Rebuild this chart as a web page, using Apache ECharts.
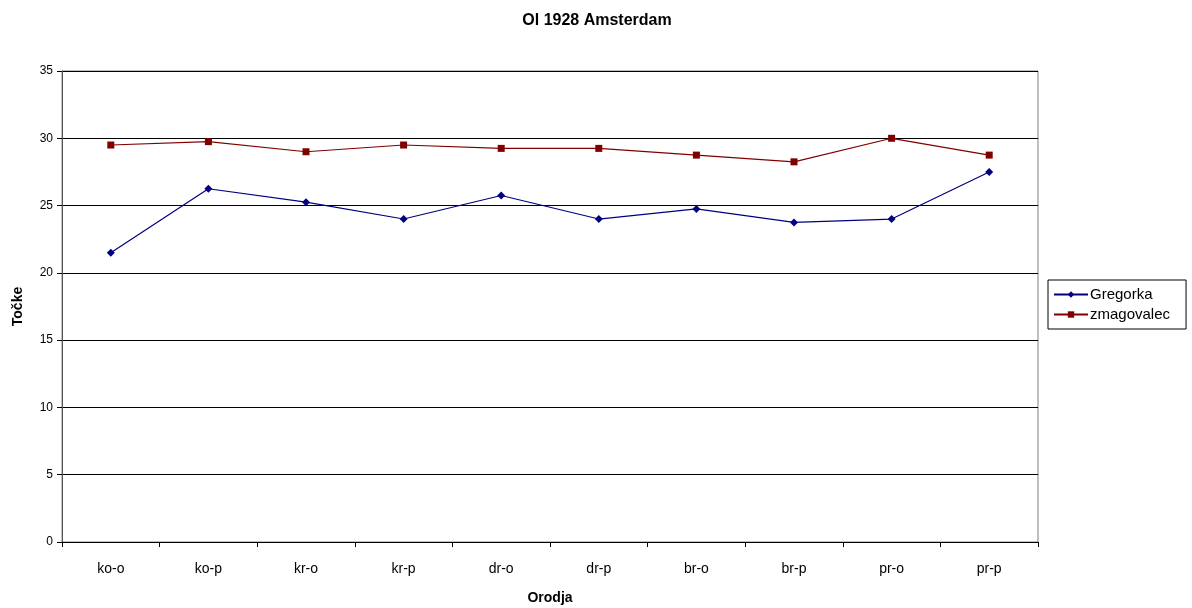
<!DOCTYPE html>
<html><head><meta charset="utf-8">
<script src="https://cdn.jsdelivr.net/npm/echarts@6/dist/echarts.min.js"></script>
<style>html,body{margin:0;padding:0;background:#fff}#c{width:1192px;height:608px}</style>
</head><body><div id="c"></div>
<script>
const categories = ['ko-o','ko-p','kr-o','kr-p','dr-o','dr-p','br-o','br-p','pr-o','pr-p'];
const gregorka = [21.5, 26.25, 25.25, 24, 25.75, 24, 24.75, 23.75, 24, 27.5];
const zmagovalec = [29.5, 29.75, 29, 29.5, 29.25, 29.25, 28.75, 28.25, 30, 28.75];
const yTicks = [0,5,10,15,20,25,30,35];

const F = 'Liberation Sans, Arial, sans-serif';
const chart = echarts.init(document.getElementById('c'));
chart.setOption({
  animation: false,
  backgroundColor: '#fff',
  title: { text: 'Ol 1928 Amsterdam', left: 592, top: 8, textAlign: 'center',
    textStyle: { fontFamily: F, fontSize: 16, fontWeight: 'bold', color: '#000' } },
  legend: {
    orient: 'vertical', left: 1048, top: 280,
    padding: [7, 16, 7, 5], itemGap: 5, itemWidth: 34, itemHeight: 8,
    borderColor: '#000', borderWidth: 1,
    textStyle: { fontFamily: F, fontSize: 15, color: '#000', padding: [0,0,0,-3] },
    data: ['Gregorka', 'zmagovalec']
  },
  grid: { left: 62, right: 154, top: 71, bottom: 66, outerBoundsMode: 'none', containLabel: false,
    show: true, borderColor: '#808080', borderWidth: 1 },
  xAxis: {
    type: 'category', data: categories, boundaryGap: true,
    name: 'Orodja', nameLocation: 'middle', nameGap: 49,
    nameTextStyle: { fontFamily: F, fontSize: 14, fontWeight: 'bold', color: '#000' },
    axisLine: { lineStyle: { color: '#000', width: 1 } },
    axisTick: { show: true, alignWithLabel: false, length: 5, lineStyle: { color: '#000' } },
    axisLabel: { fontFamily: F, fontSize: 14, color: '#000', margin: 20 }
  },
  yAxis: {
    type: 'value', min: 0, max: 35, interval: 5,
    name: 'Točke', nameLocation: 'middle', nameGap: 37, nameRotate: 90,
    nameTextStyle: { fontFamily: F, fontSize: 14, fontWeight: 'bold', color: '#000' },
    axisLine: { show: true, lineStyle: { color: '#555', width: 1 } },
    axisTick: { show: true, length: 5, lineStyle: { color: '#000' } },
    axisLabel: { fontFamily: F, fontSize: 12, color: '#000', margin: 9,
      formatter: v => yTicks.includes(v) ? String(v) : '' },
    splitLine: { show: true, lineStyle: { color: '#000', width: 1 } }
  },
  series: [
    { name: 'Gregorka', type: 'line', data: gregorka, symbol: 'diamond', symbolSize: 8,
      itemStyle: { color: '#000080' }, lineStyle: { color: '#000080', width: 1.2 } },
    { name: 'zmagovalec', type: 'line', data: zmagovalec, symbol: 'rect', symbolSize: 7,
      itemStyle: { color: '#800000' }, lineStyle: { color: '#800000', width: 1.2 } }
  ]
});
</script></body></html>
